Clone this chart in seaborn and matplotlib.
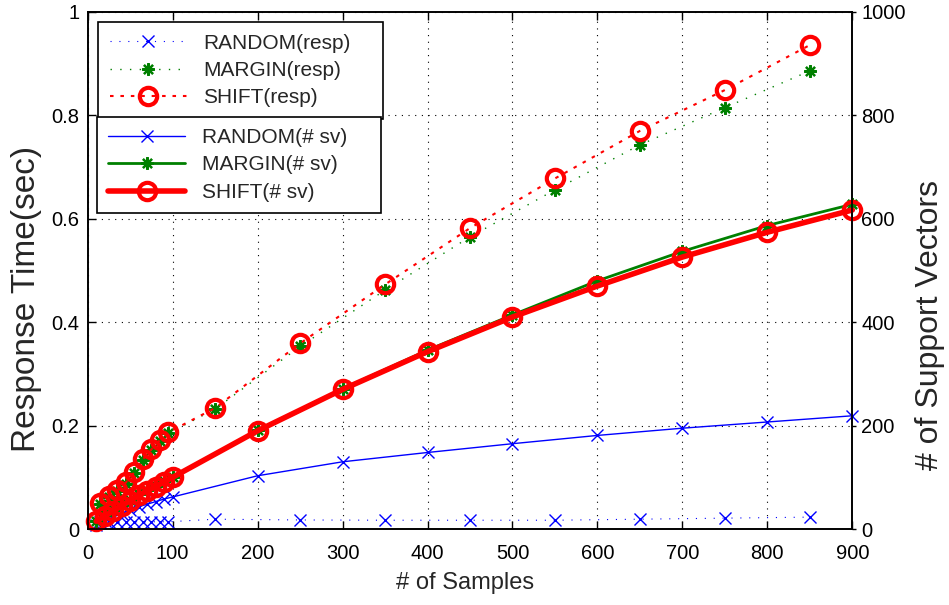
import matplotlib
matplotlib.use("Agg")
import matplotlib.pyplot as plt
import seaborn as sns
from matplotlib.lines import Line2D

# ---------------- data ----------------
x_sv = [10, 20, 30, 40, 50, 60, 70, 80, 90, 100, 200, 300, 400, 500, 600, 700, 800, 900]
x_resp = [15, 25, 35, 45, 55, 65, 75, 85, 95, 150, 250, 350, 450, 550, 650, 750, 850]

rand_resp = [0.013, 0.013, 0.014, 0.014, 0.014, 0.014, 0.014, 0.014, 0.014,
             0.019, 0.0175, 0.017, 0.017, 0.017, 0.019, 0.021, 0.023]
margin_resp = [0.048, 0.062, 0.073, 0.088, 0.108, 0.133, 0.152, 0.170, 0.185,
               0.232, 0.353, 0.462, 0.565, 0.656, 0.743, 0.815, 0.886]
shift_resp = [0.050, 0.064, 0.075, 0.090, 0.110, 0.135, 0.154, 0.172, 0.187,
              0.234, 0.359, 0.473, 0.582, 0.678, 0.770, 0.849, 0.936]

rand_sv = [8, 15, 23, 30, 37, 43, 48, 53, 58, 62, 103, 130, 148, 165, 181, 195, 207, 219]
margin_sv = [16, 27, 37, 47, 57, 67, 76, 84, 92, 101, 191, 271, 346, 414, 480, 537, 587, 628]
shift_sv = [15, 25, 35, 45, 55, 65, 74, 82, 91, 100, 190, 270, 343, 410, 470, 526, 574, 617]

resp_labels = ["RANDOM(resp)", "MARGIN(resp)", "SHIFT(resp)"]
sv_labels = ["RANDOM(# sv)", "MARGIN(# sv)", "SHIFT(# sv)"]

x_ticks = [0, 100, 200, 300, 400, 500, 600, 700, 800, 900]
y_ticks = [0, 0.2, 0.4, 0.6, 0.8, 1.0]
y_tick_labels = ["0", "0.2", "0.4", "0.6", "0.8", "1"]
y2_ticks = [0, 200, 400, 600, 800, 1000]

# ---------------- style ----------------
sns.set_style("ticks")
plt.rcParams['font.family'] = ['Liberation Sans', 'DejaVu Sans']
plt.rcParams['axes.edgecolor'] = 'black'

BLUE = '#0000ff'
GREEN = '#008000'
RED = '#ff0000'
STAR = (8, 2, 0)

fig = plt.figure(figsize=(9.49, 6.05), dpi=100)
ax = fig.add_axes([0.0924, 0.1256, 0.8057, 0.8546])
ax2 = ax.twinx()

# response-time series (left axis, dotted)
resp_styles = [
    dict(color=BLUE, lw=0.8, linestyle=(0, (1, 7)), marker='x', ms=8.5, mec=BLUE, mew=1.0),
    dict(color=GREEN, lw=1.0, linestyle=(0, (1, 6)), marker=STAR, ms=9, mec=GREEN, mew=1.6),
    dict(color=RED, lw=1.5, linestyle=(0, (1.7, 3.3)), marker='o', ms=12.5, mec=RED, mew=3.0, mfc='none'),
]
for yv, st in zip([rand_resp, margin_resp, shift_resp], resp_styles):
    sns.lineplot(x=x_resp, y=yv, ax=ax, legend=False, clip_on=False, **st)

# support vector series (right axis, solid)
sv_styles = [
    dict(color=BLUE, lw=1.0, linestyle='-', marker='x', ms=8.5, mec=BLUE, mew=1.0),
    dict(color=GREEN, lw=2.0, linestyle='-', marker=STAR, ms=9, mec=GREEN, mew=1.6),
    dict(color=RED, lw=4.0, linestyle='-', marker='o', ms=12.5, mec=RED, mew=3.0, mfc='none'),
]
for yv, st in zip([rand_sv, margin_sv, shift_sv], sv_styles):
    sns.lineplot(x=x_sv, y=yv, ax=ax2, legend=False, clip_on=False, **st)

# ---------------- axes ----------------
ax.set_xlim(0, 900)
ax.set_ylim(0, 1)
ax2.set_ylim(0, 1000)
ax.set_xticks(x_ticks)
ax.set_yticks(y_ticks, y_tick_labels)
ax2.set_yticks(y2_ticks)

ax.grid(True, color='black', lw=0.8, linestyle=(0, (1, 5)))
ax.tick_params(axis='both', direction='in', length=6, width=1, labelsize=14.5,
               top=True, colors='black')
ax.tick_params(axis='x', pad=11)
ax.tick_params(axis='y', right=False, pad=6)
ax2.tick_params(axis='y', direction='out', length=3, width=1, labelsize=14.5, colors='black')
for a in (ax, ax2):
    for s in a.spines.values():
        s.set_linewidth(1.2)
        s.set_color('black')

ax.set_xlabel("# of Samples", fontsize=17)
ax.set_ylabel("Response Time(sec)", fontsize=24)
ax2.set_ylabel("# of Support Vectors", fontsize=23)
ax.xaxis.set_label_coords(0.494, -0.104)
ax.xaxis.label.set_va('center')
ax.yaxis.set_label_coords(-0.080, 0.445)
ax.yaxis.label.set_va('center')
ax2.yaxis.set_label_coords(1.102, 0.395)
ax2.yaxis.label.set_va('center')

# ---------------- legends ----------------
def handle(st):
    return Line2D([], [], **st)

leg_kw = dict(loc='upper left', bbox_transform=fig.transFigure, borderaxespad=0,
              mode='expand', fontsize=15, handlelength=3.7, handletextpad=0.8,
              borderpad=0.55, labelspacing=0.4, fancybox=False, framealpha=1,
              edgecolor='black')
leg1 = ax2.legend([handle(s) for s in resp_styles], resp_labels,
                  bbox_to_anchor=(0.1036, 0.9631 - 0.16, 0.3003, 0.16), **leg_kw)
leg1.get_frame().set_linewidth(1.2)
ax2.add_artist(leg1)
leg2 = ax2.legend([handle(s) for s in sv_styles], sv_labels,
                  bbox_to_anchor=(0.1019, 0.8071 - 0.16, 0.2996, 0.16), **leg_kw)
leg2.get_frame().set_linewidth(1.2)

fig.savefig("out.png", dpi=100)
